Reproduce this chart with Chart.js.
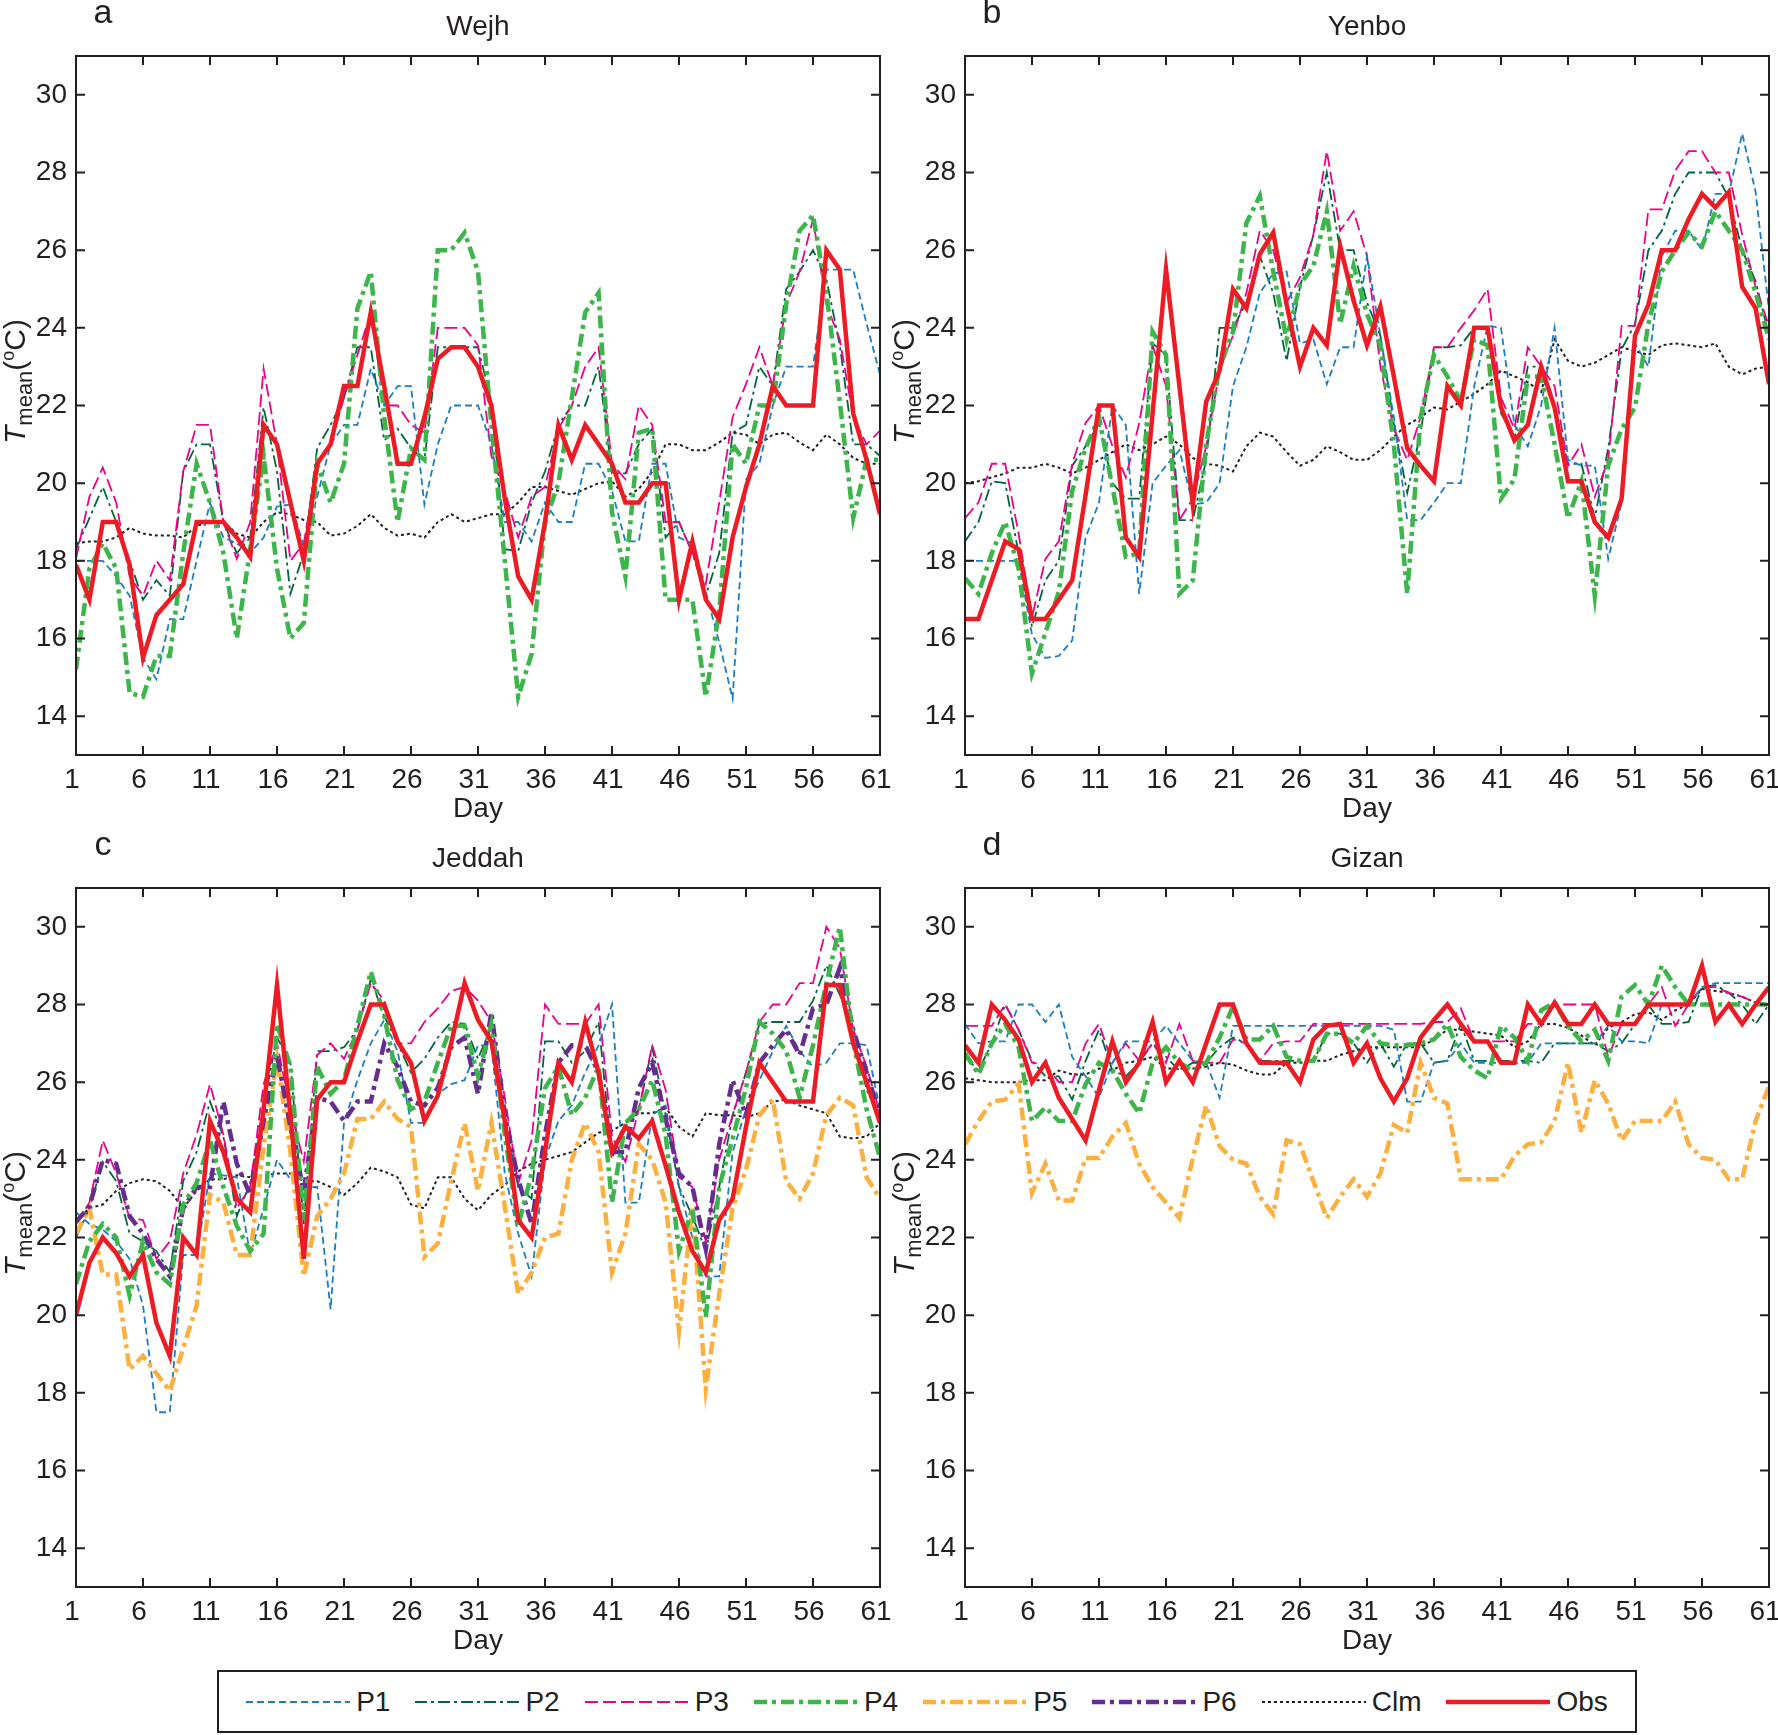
<!DOCTYPE html>
<html lang="en">

<head>
    <meta charset="UTF-8">
    <title>Tmean forecasts - Wejh, Yenbo, Jeddah, Gizan</title>
    <style>
        body {
            margin: 0;
            padding: 0;
            background-color: #fff;
            width: 1778px;
            height: 1735px;
            overflow: hidden;
            position: relative;
            font-family: "Liberation Sans", Arial, sans-serif;
            color: #231f20;
        }

        canvas {
            position: absolute;
        }

        #legend {
            position: absolute;
            left: 217px;
            top: 1670px;
            width: 1420px;
            height: 63px;
            box-sizing: border-box;
            border: 2px solid #231f20;
            display: flex;
            align-items: center;
            justify-content: center;
            gap: 25px;
            font-size: 28px;
        }

        .item {
            display: flex;
            align-items: center;
        }

        .item svg {
            margin-right: 6px;
        }
    </style>
</head>

<body>

    <canvas id="chartA" width="915" height="830" style="left:0;top:0"></canvas>
    <canvas id="chartB" width="889" height="830" style="left:889px;top:0"></canvas>
    <canvas id="chartC" width="915" height="830" style="left:0;top:832px"></canvas>
    <canvas id="chartD" width="889" height="830" style="left:889px;top:832px"></canvas>
    <div id="legend"></div>

    <script src="https://cdn.jsdelivr.net/npm/chart.js"></script>

    <script>
        // days 1..61 and axis ticks
        var days = Array.from({ length: 61 }, (_, i) => i + 1);
        var xTicks = [1, 6, 11, 16, 21, 26, 31, 36, 41, 46, 51, 56, 61];
        var yTicks = [14, 16, 18, 20, 22, 24, 26, 28, 30];

        // a - Wejh
        var wejhP1 = [18.0, 18.0, 18.0, 17.6, 17.1, 15.5, 14.95, 16.5, 16.5, 18.0,
            19.5, 18.6, 18.45, 18.2, 18.6, 19.4, 19.45, 18.4, 19.65, 21.0,
            21.5, 21.5, 22.95, 22.0, 22.5, 22.5, 19.45, 21.0, 22.0, 22.0,
            22.0, 21.0, 19.0, 19.0, 18.5, 19.5, 19.0, 19.0, 20.5, 20.5,
            19.8, 18.5, 18.5, 20.5, 20.5, 18.6, 18.45, 17.2, 15.9, 14.45,
            20.1, 20.5, 22.0, 23.0, 23.0, 23.0, 25.5, 25.5, 25.5, 24.1, 22.8];
        var wejhP2 = [18.3, 19.1, 19.9, 19.0, 18.0, 17.0, 17.5, 17.1, 20.3, 21.0,
            21.0, 19.0, 18.2, 18.6, 21.95, 20.3, 17.15, 18.2, 20.9, 21.5,
            22.2, 23.5, 23.5, 21.1, 21.4, 20.9, 20.6, 23.5, 23.5, 23.5,
            23.5, 22.1, 18.3, 18.25, 19.5, 20.3, 21.5, 22.0, 22.0, 23.0,
            20.25, 20.25, 21.0, 21.4, 18.6, 19.0, 18.2, 17.1, 18.2, 21.3,
            21.5, 23.0, 22.5, 25.0, 25.45, 26.0, 25.25, 23.55, 21.0, 21.0, 20.7];
        var wejhP3 = [18.05, 19.65, 20.4, 19.5, 17.6, 17.1, 18.0, 17.5, 20.3, 21.5,
            21.5, 19.0, 18.05, 19.0, 22.95, 21.0, 18.0, 18.45, 20.5, 21.0,
            22.2, 23.3, 24.4, 22.0, 22.0, 21.5, 21.3, 24.0, 24.0, 24.0,
            23.55, 20.7, 19.8, 18.6, 19.65, 19.9, 21.4, 22.0, 23.0, 23.5,
            20.5, 20.1, 22.0, 21.5, 19.0, 19.0, 18.2, 17.4, 19.5, 21.7,
            22.55, 23.5, 22.5, 24.6, 25.45, 26.8, 24.6, 23.7, 21.7, 21.0, 21.35];
        var wejhP4 = [15.2, 17.8, 18.45, 17.8, 14.6, 14.5, 15.55, 15.55, 18.2, 20.5,
            19.5, 18.2, 16.0, 18.3, 20.7, 17.8, 16.0, 16.4, 20.5, 19.5,
            20.5, 24.5, 25.45, 21.7, 19.0, 20.9, 20.6, 26.0, 26.0, 26.45,
            25.45, 21.5, 18.0, 14.5, 15.6, 19.0, 20.0, 22.2, 24.4, 24.9,
            19.25, 17.6, 21.3, 21.4, 17.0, 17.0, 17.0, 14.5, 16.7, 21.0,
            20.5, 22.0, 22.0, 24.6, 26.5, 26.9, 24.9, 22.1, 19.1, 20.6, 20.6];
        var wejhClm = [18.45, 18.5, 18.5, 18.6, 18.85, 18.7, 18.65, 18.65, 18.6, 18.9,
            19.0, 19.0, 18.7, 18.6, 19.0, 19.25, 19.2, 19.05, 19.0, 18.65,
            18.7, 18.9, 19.2, 18.85, 18.65, 18.7, 18.6, 19.0, 19.2, 19.0,
            19.1, 19.2, 19.2, 19.5, 19.9, 19.9, 19.8, 19.7, 19.85, 20.0,
            20.05, 19.65, 19.85, 20.3, 21.0, 21.0, 20.85, 20.85, 21.05, 21.3,
            21.25, 21.0, 21.25, 21.3, 21.05, 20.85, 21.25, 21.0, 20.65, 20.5, 20.5];
        var wejhObs = [17.9, 17.0, 19.0, 19.0, 17.9, 15.5, 16.6, 17.0, 17.4, 19.0,
            19.0, 19.0, 18.6, 18.1, 21.5, 21.0, 19.5, 18.0, 20.5, 21.0,
            22.5, 22.5, 24.4, 22.5, 20.5, 20.5, 21.7, 23.2, 23.5, 23.5,
            23.0, 22.0, 19.6, 17.6, 17.0, 19.0, 21.5, 20.6, 21.5, 21.0,
            20.5, 19.5, 19.5, 20.0, 20.0, 17.0, 18.5, 17.0, 16.5, 18.6,
            19.9, 21.0, 22.5, 22.0, 22.0, 22.0, 26.0, 25.5, 21.8, 20.6, 19.2];

        // b - Yenbo
        var yenboP1 = [18.0, 18.0, 18.0, 18.0, 18.0, 16.1, 15.5, 15.55, 15.95, 18.6,
            19.5, 22.0, 21.5, 17.15, 20.0, 20.45, 20.85, 19.45, 19.5, 20.0,
            22.5, 23.5, 24.9, 25.4, 25.45, 23.6, 23.7, 22.55, 23.5, 23.5,
            25.85, 23.8, 21.7, 19.05, 19.05, 19.5, 20.0, 20.0, 22.5, 24.05,
            24.0, 21.5, 20.95, 22.0, 24.0, 20.6, 20.45, 20.45, 18.05, 19.5,
            23.6, 23.0, 25.85, 26.5, 26.5, 26.0, 27.45, 27.45, 29.0, 27.5, 24.45];
        var yenboP2 = [18.5, 19.0, 20.05, 20.0, 18.2, 16.3, 17.5, 18.0, 20.45, 20.95,
            21.55, 20.0, 19.6, 19.6, 23.6, 23.3, 19.05, 19.05, 20.6, 24.0,
            24.0, 24.65, 25.85, 24.9, 23.15, 25.05, 26.4, 28.0, 26.0, 26.0,
            24.65, 23.8, 21.55, 19.75, 21.3, 23.5, 23.5, 23.55, 24.0, 24.0,
            21.8, 21.15, 23.0, 23.0, 21.95, 20.5, 20.5, 19.1, 20.9, 23.45,
            24.1, 26.0, 26.5, 27.45, 28.0, 28.0, 28.0, 27.35, 26.0, 25.2, 23.8];
        var yenboP3 = [19.1, 19.5, 20.5, 20.5, 18.7, 16.55, 18.05, 18.5, 20.5, 21.55,
            22.0, 20.95, 20.15, 21.55, 23.55, 22.5, 19.05, 19.6, 20.95, 22.9,
            23.8, 24.9, 26.5, 26.0, 24.65, 25.3, 26.4, 28.55, 26.5, 27.0,
            25.85, 23.0, 21.4, 20.6, 21.7, 23.5, 23.5, 24.0, 24.45, 25.0,
            22.2, 21.4, 23.5, 23.0, 22.5, 20.45, 21.0, 19.65, 20.6, 24.05,
            24.05, 27.05, 27.05, 28.05, 28.55, 28.55, 28.0, 28.0, 26.4, 25.05, 24.05];
        var yenboP4 = [17.55, 17.15, 18.2, 19.0, 17.8, 15.1, 16.15, 17.2, 19.8, 20.9,
            21.7, 19.9, 18.1, 18.2, 23.9, 23.3, 17.15, 17.5, 21.0, 23.0,
            23.9, 26.7, 27.4, 25.45, 23.7, 25.1, 25.6, 27.0, 24.1, 25.6,
            24.35, 23.55, 21.0, 17.15, 21.7, 23.3, 22.75, 22.1, 23.7, 23.55,
            19.6, 20.1, 22.75, 22.75, 21.0, 19.1, 20.05, 17.1, 20.45, 21.4,
            21.95, 24.1, 25.45, 26.0, 26.45, 26.1, 27.0, 26.5, 26.0, 24.9, 23.7];
        var yenboClm = [20.0, 20.05, 20.15, 20.25, 20.4, 20.4, 20.5, 20.4, 20.25, 20.4,
            20.6, 20.8, 21.0, 20.85, 21.0, 21.2, 21.0, 20.65, 20.5, 20.45,
            20.3, 20.95, 21.3, 21.2, 20.8, 20.45, 20.6, 20.95, 20.8, 20.6,
            20.6, 20.85, 21.2, 21.5, 21.7, 21.95, 21.9, 22.1, 22.3, 22.55,
            22.9, 22.75, 22.6, 22.35, 23.7, 23.15, 23.0, 23.1, 23.3, 23.5,
            23.4, 23.3, 23.55, 23.6, 23.55, 23.5, 23.6, 23.0, 22.8, 22.95, 23.0];
        var yenboObs = [16.5, 16.5, 17.5, 18.5, 18.3, 16.5, 16.5, 17.0, 17.5, 19.7,
            22.0, 22.0, 18.6, 18.1, 21.8, 25.5, 22.5, 19.45, 22.1, 22.9,
            25.0, 24.5, 25.9, 26.45, 24.6, 23.0, 24.0, 23.55, 26.1, 24.7,
            23.55, 24.55, 22.75, 20.9, 20.45, 20.05, 22.5, 22.0, 24.0, 24.0,
            21.95, 21.1, 21.5, 23.0, 21.95, 20.05, 20.05, 19.0, 18.6, 19.6,
            23.8, 24.6, 26.0, 26.0, 26.8, 27.45, 27.1, 27.5, 25.05, 24.5, 22.55];

        // c - Jeddah
        var jeddahP1 = [22.65, 22.35, 22.2, 21.9, 21.45, 20.25, 17.5, 17.5, 21.55, 21.55,
            23.65, 23.6, 23.55, 21.55, 22.75, 24.0, 23.5, 23.3, 23.3, 20.15,
            24.95, 26.05, 27.0, 27.6, 26.8, 24.95, 24.95, 25.7, 25.95, 26.05,
            26.95, 26.95, 23.65, 22.1, 21.0, 24.0, 25.0, 25.4, 26.25, 26.95,
            28.0, 22.9, 22.9, 25.15, 25.4, 23.3, 22.0, 21.0, 21.0, 24.2,
            25.3, 26.05, 26.8, 27.45, 26.8, 26.4, 26.5, 27.0, 27.0, 26.95, 25.3];
        var jeddahP2 = [22.0, 22.75, 23.95, 23.45, 22.1, 21.9, 21.65, 21.1, 23.45, 24.2,
            25.5, 24.6, 22.55, 23.4, 25.4, 27.15, 26.5, 22.35, 26.8, 26.8,
            26.9, 27.35, 28.65, 27.7, 27.0, 26.25, 26.6, 27.15, 27.55, 27.5,
            26.6, 27.45, 25.05, 23.3, 23.0, 27.05, 27.05, 26.5, 26.8, 27.55,
            24.05, 24.85, 25.3, 26.9, 25.15, 23.3, 22.55, 21.65, 23.3, 25.15,
            26.25, 27.5, 27.55, 27.55, 27.55, 28.1, 29.0, 28.25, 27.35, 25.8, 25.15];
        var jeddahP3 = [22.35, 22.9, 24.5, 23.65, 22.5, 22.45, 21.45, 21.9, 23.65, 24.65,
            25.95, 24.65, 22.75, 23.3, 25.95, 27.0, 25.3, 23.95, 26.7, 27.0,
            26.6, 27.35, 28.55, 28.1, 27.0, 27.0, 27.55, 27.9, 28.35, 28.45,
            28.1, 27.55, 25.6, 23.4, 24.5, 28.0, 27.5, 27.5, 27.5, 28.0,
            24.6, 23.95, 25.3, 26.95, 25.8, 23.55, 23.3, 21.9, 24.0, 25.15,
            26.25, 27.55, 28.0, 28.0, 28.55, 28.55, 30.0, 29.45, 27.35, 26.4, 25.2];
        var jeddahP4 = [20.8, 21.9, 22.35, 22.0, 20.5, 21.9, 21.1, 20.8, 22.85, 23.4,
            24.5, 23.3, 22.3, 21.65, 22.1, 27.5, 26.4, 22.45, 26.4, 25.7,
            26.05, 27.45, 28.85, 27.7, 26.05, 25.3, 25.5, 26.5, 27.45, 27.45,
            26.15, 27.5, 24.65, 22.3, 23.65, 25.85, 26.4, 25.15, 25.6, 26.4,
            22.9, 24.95, 25.3, 26.05, 24.65, 21.65, 22.75, 19.95, 23.3, 24.55,
            25.85, 27.55, 27.25, 26.8, 25.6, 26.95, 28.55, 30.0, 27.05, 25.3, 24.05];
        var jeddahP5 = [22.1, 22.75, 21.05, 21.05, 18.6, 18.95, 18.5, 18.05, 19.15, 20.25,
            23.1, 22.9, 21.55, 21.55, 24.35, 26.6, 24.2, 21.0, 22.55, 23.0,
            23.65, 25.05, 25.05, 25.5, 25.05, 24.85, 21.5, 21.85, 23.45, 24.95,
            23.2, 24.95, 22.8, 20.55, 21.1, 22.0, 22.1, 24.0, 24.95, 24.2,
            21.1, 22.1, 24.4, 24.0, 22.9, 19.6, 22.8, 18.1, 20.55, 22.75,
            23.75, 25.15, 25.55, 23.45, 23.0, 23.65, 25.15, 25.6, 25.4, 23.55, 23.0];
        var jeddahP6 = [22.4, 22.8, 24.0, 23.9, 22.55, 22.1, 21.45, 21.0, 22.75, 23.3,
            23.3, 25.5, 23.9, 23.1, 25.0, 26.7, 24.85, 23.2, 25.6, 25.5,
            25.0, 25.5, 25.5, 27.0, 26.4, 25.5, 25.4, 25.85, 26.9, 27.15,
            25.7, 27.8, 25.15, 23.5, 22.35, 24.65, 26.5, 26.95, 26.95, 26.25,
            24.2, 24.2, 25.85, 26.5, 25.05, 23.65, 23.3, 21.7, 24.4, 26.05,
            25.15, 26.5, 26.95, 27.35, 26.7, 27.9, 28.0, 28.95, 27.35, 26.25, 25.15];
        var jeddahClm = [22.45, 22.75, 22.85, 23.2, 23.4, 23.5, 23.45, 23.2, 22.75, 23.2,
            23.5, 23.5, 23.6, 23.55, 23.6, 23.65, 23.65, 23.45, 23.45, 23.3,
            23.1, 23.4, 23.8, 23.7, 23.55, 22.85, 22.75, 23.55, 23.55, 23.0,
            22.7, 23.1, 23.35, 23.7, 23.9, 24.0, 24.1, 24.2, 24.45, 24.7,
            24.75, 24.95, 25.2, 25.2, 25.35, 24.85, 24.6, 25.2, 25.15, 25.15,
            25.1, 25.2, 25.5, 25.55, 25.4, 25.3, 25.2, 24.6, 24.55, 24.6, 24.95];
        var jeddahObs = [20.0, 21.35, 22.0, 21.6, 21.0, 21.55, 19.8, 18.95, 22.0, 21.55,
            25.0, 24.2, 23.0, 22.65, 25.3, 28.5, 25.15, 21.45, 25.55, 26.0,
            26.0, 27.05, 28.0, 28.0, 27.05, 26.5, 25.0, 25.65, 27.0, 28.55,
            27.6, 27.05, 25.0, 22.45, 22.0, 24.2, 26.5, 26.0, 27.55, 26.25,
            24.2, 24.85, 24.55, 25.0, 23.85, 22.65, 21.65, 21.1, 22.45, 23.0,
            24.85, 26.5, 26.0, 25.5, 25.5, 25.5, 28.5, 28.5, 27.0, 26.0, 24.95];

        // d - Gizan
        var gizanP1 = [27.5, 27.0, 27.05, 27.05, 28.0, 28.0, 27.55, 28.0, 26.65, 26.15,
            25.6, 26.5, 27.05, 27.05, 27.05, 27.45, 27.0, 26.55, 26.5, 25.6,
            27.45, 27.45, 27.45, 27.45, 27.45, 27.45, 27.45, 27.45, 27.45, 27.45,
            27.45, 27.45, 27.35, 25.5, 25.5, 26.5, 26.55, 27.0, 26.5, 26.5,
            26.5, 26.5, 26.5, 27.0, 27.0, 27.0, 27.0, 27.0, 27.45, 27.05,
            27.05, 27.0, 28.0, 28.0, 28.0, 28.45, 28.55, 28.55, 28.55, 28.55, 28.55];
        var gizanP2 = [26.65, 26.3, 27.0, 28.0, 27.35, 26.55, 26.15, 26.15, 25.55, 26.55,
            27.35, 26.3, 26.15, 26.5, 27.0, 26.65, 26.3, 26.5, 26.5, 26.9,
            27.15, 27.0, 26.55, 26.55, 26.55, 26.55, 26.55, 27.25, 27.25, 27.0,
            26.5, 27.0, 26.4, 27.0, 27.0, 26.5, 26.55, 27.5, 26.55, 26.55,
            26.55, 26.55, 26.55, 26.5, 27.0, 27.0, 27.0, 27.0, 26.8, 27.0,
            27.5, 28.0, 27.5, 27.5, 27.55, 28.45, 28.5, 28.3, 28.0, 27.5, 28.0];
        var gizanP3 = [27.45, 27.45, 27.45, 28.0, 27.35, 26.5, 26.45, 26.0, 26.0, 27.0,
            27.5, 26.5, 27.0, 26.55, 27.0, 26.5, 27.5, 26.55, 26.5, 26.5,
            27.1, 27.0, 26.55, 27.0, 27.05, 27.05, 27.5, 27.5, 27.5, 27.5,
            27.5, 27.5, 27.5, 27.5, 27.5, 27.55, 27.55, 27.9, 27.05, 27.05,
            27.05, 27.05, 27.5, 27.5, 28.0, 28.0, 28.0, 28.0, 26.65, 27.5,
            27.5, 28.0, 28.45, 27.45, 28.0, 28.45, 28.45, 28.3, 28.2, 28.05, 28.0];
        var gizanP4 = [26.75, 26.2, 27.0, 27.5, 26.9, 25.0, 25.35, 25.0, 25.0, 25.95,
            26.5, 26.3, 25.7, 25.2, 26.5, 26.9, 26.5, 26.3, 26.5, 27.15,
            27.95, 27.1, 27.1, 27.45, 26.65, 26.55, 26.55, 27.25, 27.25, 27.0,
            27.45, 27.0, 26.95, 26.95, 27.0, 27.1, 27.5, 26.65, 26.3, 26.1,
            27.45, 27.15, 26.55, 27.85, 28.05, 27.45, 27.05, 27.35, 26.55, 28.2,
            28.5, 28.0, 29.0, 28.45, 28.0, 28.0, 28.0, 28.0, 28.0, 28.0, 28.0];
        var gizanP5 = [24.4, 25.0, 25.5, 25.55, 25.95, 23.15, 23.9, 22.95, 22.95, 24.05,
            24.05, 24.6, 24.95, 23.9, 23.3, 22.9, 22.5, 24.05, 25.4, 24.35,
            24.0, 23.9, 23.05, 22.6, 24.5, 24.4, 23.45, 22.5, 23.05, 23.5,
            23.05, 23.65, 24.9, 24.7, 26.5, 25.6, 25.45, 23.5, 23.5, 23.5,
            23.5, 24.1, 24.4, 24.45, 25.0, 26.5, 24.7, 26.05, 25.45, 24.5,
            25.0, 25.0, 25.0, 25.5, 24.4, 24.05, 24.0, 23.5, 23.5, 25.0, 25.9];
        var gizanClm = [26.1, 26.05, 26.0, 26.0, 26.0, 26.05, 26.05, 26.3, 26.2, 26.2,
            26.35, 26.3, 26.5, 26.55, 26.65, 26.35, 26.35, 26.35, 26.4, 26.5,
            26.45, 26.3, 26.2, 26.2, 26.5, 26.5, 26.55, 26.55, 26.7, 26.8,
            26.9, 26.9, 26.9, 26.9, 26.9, 27.1, 27.35, 27.35, 27.3, 27.25,
            27.2, 26.9, 27.05, 27.5, 27.5, 27.4, 27.2, 26.95, 27.4, 27.55,
            27.75, 27.8, 27.6, 27.85, 28.0, 28.4, 28.35, 28.3, 28.2, 28.05, 28.0];
        var gizanObs = [26.95, 26.5, 28.0, 27.6, 27.1, 26.0, 26.5, 25.6, 25.05, 24.5,
            25.8, 27.05, 26.0, 26.5, 27.55, 26.0, 26.55, 26.0, 27.0, 28.0,
            28.0, 27.0, 26.5, 26.5, 26.5, 26.0, 27.1, 27.45, 27.5, 26.5,
            27.0, 26.1, 25.5, 26.1, 27.15, 27.6, 28.0, 27.5, 27.05, 27.05,
            26.5, 26.5, 28.0, 27.5, 28.05, 27.5, 27.5, 28.0, 27.5, 27.5,
            27.5, 28.0, 28.0, 28.0, 28.0, 29.0, 27.55, 28.0, 27.5, 28.0, 28.45];

        var legendKeys = ['P1', 'P2', 'P3', 'P4', 'P5', 'P6', 'Clm', 'Obs'];

        var FONT = '"Liberation Sans", Arial, sans-serif';
        var INK = '#231f20';

        var styles = {
            P1: { color: '#1b7ec2', width: 1.8, dash: [7, 4], order: 4 },
            P2: { color: '#00663a', width: 1.8, dash: [12, 4, 3, 4], order: 6 },
            P3: { color: '#ec008c', width: 1.8, dash: [13, 5], order: 5 },
            P4: { color: '#3cb54a', width: 4.5, dash: [13, 5, 4, 5], order: 1 },
            P5: { color: '#fbb040', width: 4.5, dash: [13, 5, 4, 5], order: 3 },
            P6: { color: '#662d91', width: 4.5, dash: [13, 5, 4, 5], order: 2 },
            Clm: { color: '#231f20', width: 2, dash: [3, 3], order: 7 },
            Obs: { color: '#ed1c24', width: 4.5, dash: [], order: 0 }
        };

        // box, inward ticks, panel letter, station name and y title
        var framePlugin = {
            id: 'frame',
            afterDraw: function (chart, args, opts) {
                var ctx = chart.ctx, a = chart.chartArea;
                var x = chart.scales.x, y = chart.scales.y;
                ctx.save();
                ctx.strokeStyle = INK;
                ctx.lineWidth = 2;
                ctx.strokeRect(a.left, a.top, a.right - a.left, a.bottom - a.top);
                ctx.beginPath();
                x.ticks.forEach(function (t) {
                    var px = x.getPixelForValue(t.value);
                    ctx.moveTo(px, a.bottom); ctx.lineTo(px, a.bottom - 9);
                    ctx.moveTo(px, a.top); ctx.lineTo(px, a.top + 9);
                });
                y.ticks.forEach(function (t) {
                    var py = y.getPixelForValue(t.value);
                    ctx.moveTo(a.left, py); ctx.lineTo(a.left + 9, py);
                    ctx.moveTo(a.right, py); ctx.lineTo(a.right - 9, py);
                });
                ctx.stroke();

                ctx.fillStyle = INK;
                ctx.textBaseline = 'middle';
                ctx.textAlign = 'center';
                ctx.font = '34px ' + FONT;
                ctx.fillText(opts.letter, a.left + 27, a.top - 42);
                ctx.font = '28px ' + FONT;
                ctx.fillText(opts.title, (a.left + a.right) / 2, a.top - 29);

                // T_mean(oC), rotated
                var parts = [
                    { t: 'T', f: 'italic 30px ' + FONT, dy: 0 },
                    { t: 'mean', f: '22px ' + FONT, dy: 7 },
                    { t: '(', f: '30px ' + FONT, dy: 0 },
                    { t: 'o', f: '18px ' + FONT, dy: -11 },
                    { t: 'C)', f: '30px ' + FONT, dy: 0 }
                ];
                ctx.textAlign = 'left';
                ctx.textBaseline = 'alphabetic';
                var total = 0;
                parts.forEach(function (p) { ctx.font = p.f; p.w = ctx.measureText(p.t).width; total += p.w; });
                ctx.translate(25, (a.top + a.bottom) / 2 - 24);
                ctx.rotate(-Math.PI / 2);
                var cx = -total / 2;
                parts.forEach(function (p) {
                    ctx.font = p.f;
                    ctx.fillText(p.t, cx, p.dy);
                    cx += p.w;
                });
                ctx.restore();
            }
        };

        function makePanel(id, letter, title, series, padRight) {
            var datasets = series.map(function (s) {
                var st = styles[s.key];
                return {
                    label: s.key,
                    data: s.data,
                    borderColor: st.color,
                    borderWidth: st.width,
                    borderDash: st.dash,
                    order: st.order,
                    pointRadius: 0,
                    tension: 0,
                    fill: false
                };
            });
            var tickFont = { family: FONT, size: 28 };
            return new Chart(document.getElementById(id).getContext('2d'), {
                type: 'line',
                data: { labels: days, datasets: datasets },
                options: {
                    responsive: false,
                    animation: false,
                    devicePixelRatio: 1,
                    layout: { autoPadding: false, padding: { top: 56, right: padRight, bottom: 0, left: 0 } },
                    plugins: {
                        legend: { display: false },
                        tooltip: { enabled: false },
                        frame: { letter: letter, title: title }
                    },
                    scales: {
                        x: {
                            type: 'linear',
                            min: 1,
                            max: 61,
                            afterBuildTicks: function (s) { s.ticks = xTicks.map(function (v) { return { value: v }; }); },
                            afterFit: function (s) { s.height = 75; s.paddingLeft = 0; s.paddingRight = 0; },
                            grid: { display: false, drawTicks: false },
                            border: { display: false },
                            ticks: { font: tickFont, color: INK, padding: 8, labelOffset: -4, maxRotation: 0, autoSkip: false },
                            title: { display: true, text: 'Day', font: tickFont, color: INK, padding: { top: 0, bottom: 4 } }
                        },
                        y: {
                            min: 13,
                            max: 31,
                            afterBuildTicks: function (s) { s.ticks = yTicks.map(function (v) { return { value: v }; }); },
                            afterFit: function (s) { s.width = 76; s.paddingTop = 0; s.paddingBottom = 0; },
                            grid: { display: false, drawTicks: false },
                            border: { display: false },
                            ticks: { font: tickFont, color: INK, padding: 9 }
                        }
                    }
                },
                plugins: [framePlugin]
            });
        }

        makePanel('chartA', 'a', 'Wejh', [
            { key: 'P1', data: wejhP1 }, { key: 'P2', data: wejhP2 }, { key: 'P3', data: wejhP3 },
            { key: 'P4', data: wejhP4 }, { key: 'Clm', data: wejhClm }, { key: 'Obs', data: wejhObs }
        ], 35);
        makePanel('chartB', 'b', 'Yenbo', [
            { key: 'P1', data: yenboP1 }, { key: 'P2', data: yenboP2 }, { key: 'P3', data: yenboP3 },
            { key: 'P4', data: yenboP4 }, { key: 'Clm', data: yenboClm }, { key: 'Obs', data: yenboObs }
        ], 9);
        makePanel('chartC', 'c', 'Jeddah', [
            { key: 'P1', data: jeddahP1 }, { key: 'P2', data: jeddahP2 }, { key: 'P3', data: jeddahP3 },
            { key: 'P4', data: jeddahP4 }, { key: 'P5', data: jeddahP5 }, { key: 'P6', data: jeddahP6 },
            { key: 'Clm', data: jeddahClm }, { key: 'Obs', data: jeddahObs }
        ], 35);
        makePanel('chartD', 'd', 'Gizan', [
            { key: 'P1', data: gizanP1 }, { key: 'P2', data: gizanP2 }, { key: 'P3', data: gizanP3 },
            { key: 'P4', data: gizanP4 }, { key: 'P5', data: gizanP5 },
            { key: 'Clm', data: gizanClm }, { key: 'Obs', data: gizanObs }
        ], 9);

        // shared legend box
        var legend = document.getElementById('legend');
        legendKeys.forEach(function (k) {
            var st = styles[k];
            var item = document.createElement('div');
            item.className = 'item';
            item.innerHTML = '<svg width="104" height="12"><line x1="0" y1="6" x2="104" y2="6" stroke="' + st.color +
                '" stroke-width="' + st.width + '" stroke-dasharray="' + (st.dash.length ? st.dash.join(' ') : 'none') +
                '"/></svg><span>' + k + '</span>';
            legend.appendChild(item);
        });
    </script>

</body>

</html>
